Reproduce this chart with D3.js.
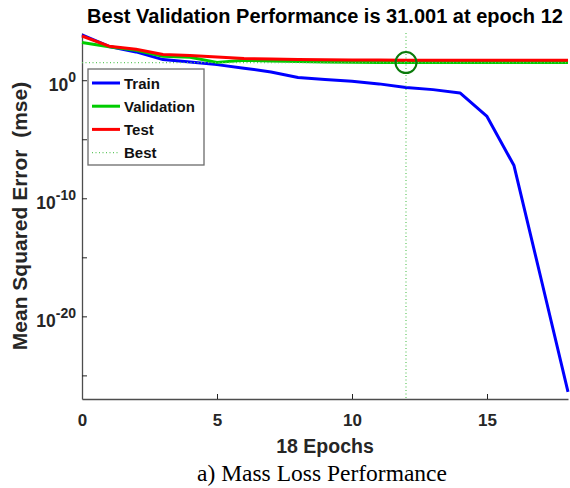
<!DOCTYPE html>
<html>
<head>
<meta charset="utf-8">
<script src="https://cdn.jsdelivr.net/npm/d3@7"></script>
<style>
  html, body { margin: 0; padding: 0; background: #fff; }
  svg { display: block; }
  text { font-family: "Liberation Sans", Arial, sans-serif; }
</style>
</head>
<body>
<svg id="chart" width="570" height="488"></svg>
<script>
// Training record of the network (mean squared error per epoch)
const epochs = [0, 1, 2, 3, 4, 5, 6, 7, 8, 9, 10, 11, 12, 13, 14, 15, 16, 17, 18];
const trainMse = [7.1e3, 7.2e2, 2.5e2, 56, 35, 21, 10.5, 5.0, 1.7, 1.15, 0.83, 0.49, 0.24, 0.16, 0.083, 8.5e-4, 5.9e-8, 1.6e-17, 4e-27];
const validationMse = [1.55e3, 6.9e2, 3.47e2, 1.07e2, 89, 32.5, 50, 42, 38, 35.5, 34, 32.4, 31.001, 31.2, 31.3, 31.4, 31.5, 31.5, 31.6];
const testMse = [5.6e3, 7.6e2, 4.27e2, 1.51e2, 1.23e2, 93, 69, 63, 56, 55, 52, 51, 50, 49.5, 49.5, 49.5, 49.5, 49.5, 49.5];
const bestEpoch = 12;
const bestValue = 31.001;
const xTicks = [0, 5, 10, 15];
const yTicksMajor = [1e0, 1e-10, 1e-20];
const yTicksMinor = [1e-5, 1e-15, 1e-25];
const yExponents = {"1": "0", "1e-10": "-10", "1e-20": "-20"};
const legendNames = ["Train", "Validation", "Test", "Best"];
const seriesColors = ["#0000ff", "#00cc00", "#ff0000"];

const svg = d3.select("#chart");
const plotLeft = 82, plotRight = 568, plotTop = 33, plotBottom = 399;

const x = d3.scaleLinear().domain([0, 18]).range([plotLeft, plotRight]);
const y = d3.scaleLog().domain([1e-27, 1e4]).range([plotBottom, plotTop]);

// Axes (ticks point inward)
const axisColor = "#4d4d4d";
const xAxis = svg.append("g").attr("transform", `translate(0,${plotBottom})`)
  .call(d3.axisBottom(x).tickValues(xTicks).tickSizeInner(-5).tickSizeOuter(0).tickPadding(12).tickFormat(d3.format("d")));
xAxis.select(".domain").attr("stroke", axisColor).attr("stroke-width", 1.3);
xAxis.selectAll(".tick line").attr("stroke", "#222");
xAxis.selectAll(".tick text")
  .attr("font-size", 17).attr("font-weight", "bold").attr("fill", "#262626")
  .attr("dy", "0.9em");

const yAxis = svg.append("g").attr("transform", `translate(${plotLeft},0)`)
  .call(d3.axisLeft(y).tickValues(yTicksMajor.concat(yTicksMinor)).tickSizeInner(-5).tickSizeOuter(0).tickFormat(""));
yAxis.select(".domain").attr("stroke", axisColor).attr("stroke-width", 1.3);
yAxis.selectAll(".tick line").attr("stroke", "#222");

// Power-of-ten labels with superscript exponents
yAxis.selectAll(".tick").filter(d => yTicksMajor.includes(d)).each(function(d) {
  const t = d3.select(this).append("text")
    .attr("x", -6).attr("y", 10.5)
    .attr("text-anchor", "end")
    .attr("fill", "#262626").attr("font-weight", "bold");
  t.append("tspan").attr("font-size", 17.5).text("10");
  t.append("tspan").attr("font-size", 14).attr("dy", -9).text(yExponents[String(d)]);
});

// Series lines
const line = d3.line().x((d, i) => x(epochs[i])).y(d => y(d));
[trainMse, validationMse, testMse].forEach((series, k) => {
  svg.append("path").datum(series)
    .attr("d", line)
    .attr("fill", "none")
    .attr("stroke", seriesColors[k])
    .attr("stroke-width", 3)
    .attr("stroke-linejoin", "round");
});

// Best-epoch markers
const bestColor = "#5fc65f";
svg.append("line")
  .attr("x1", x(0)).attr("x2", x(18))
  .attr("y1", y(bestValue)).attr("y2", y(bestValue))
  .attr("stroke", bestColor).attr("stroke-width", 1.2).attr("stroke-dasharray", "1,2.5");
svg.append("line")
  .attr("x1", x(bestEpoch)).attr("x2", x(bestEpoch))
  .attr("y1", plotTop).attr("y2", plotBottom)
  .attr("stroke", bestColor).attr("stroke-width", 1.2).attr("stroke-dasharray", "1,2.5");
svg.append("circle")
  .attr("cx", x(bestEpoch)).attr("cy", y(bestValue)).attr("r", 10.5)
  .attr("fill", "none").attr("stroke", "#0a7a0a").attr("stroke-width", 2);

// Legend
const lg = svg.append("g");
lg.append("rect").attr("x", 88).attr("y", 69).attr("width", 116).attr("height", 96)
  .attr("fill", "#fff").attr("stroke", "#6b6b6b").attr("stroke-width", 1.3);
legendNames.forEach((name, i) => {
  const cy = 83 + i * 23.2;
  const sample = lg.append("line").attr("x1", 92).attr("x2", 120).attr("y1", cy).attr("y2", cy);
  if (i < 3) {
    sample.attr("stroke", seriesColors[i]).attr("stroke-width", 3);
  } else {
    sample.attr("stroke", bestColor).attr("stroke-width", 1.2).attr("stroke-dasharray", "1,2.5");
  }
  lg.append("text").attr("x", 124).attr("y", cy + 5.5)
    .attr("font-size", 15).attr("font-weight", "bold").attr("fill", "#111").text(name);
});

// Titles
svg.append("text").attr("x", (plotLeft + plotRight) / 2).attr("y", 23)
  .attr("text-anchor", "middle").attr("font-size", 20).attr("font-weight", "bold").attr("fill", "#000")
  .text(`Best Validation Performance is ${bestValue.toFixed(3)} at epoch ${bestEpoch}`);
svg.append("text").attr("x", (plotLeft + plotRight) / 2).attr("y", 453)
  .attr("text-anchor", "middle").attr("font-size", 19.5).attr("font-weight", "bold").attr("fill", "#262626")
  .text(`${epochs.length - 1} Epochs`);
svg.append("text")
  .attr("transform", `translate(27,${(80 + 352) / 2}) rotate(-90)`)
  .attr("text-anchor", "middle").attr("font-size", 21).attr("font-weight", "bold").attr("fill", "#262626")
  .attr("xml:space", "preserve").style("white-space", "pre")
  .text("Mean Squared Error  (mse)");
svg.append("text").attr("x", 322).attr("y", 481)
  .attr("text-anchor", "middle").attr("font-size", 23.5)
  .style("font-family", '"Liberation Serif", "Times New Roman", serif').attr("fill", "#000")
  .text("a) Mass Loss Performance");
</script>
</body>
</html>
